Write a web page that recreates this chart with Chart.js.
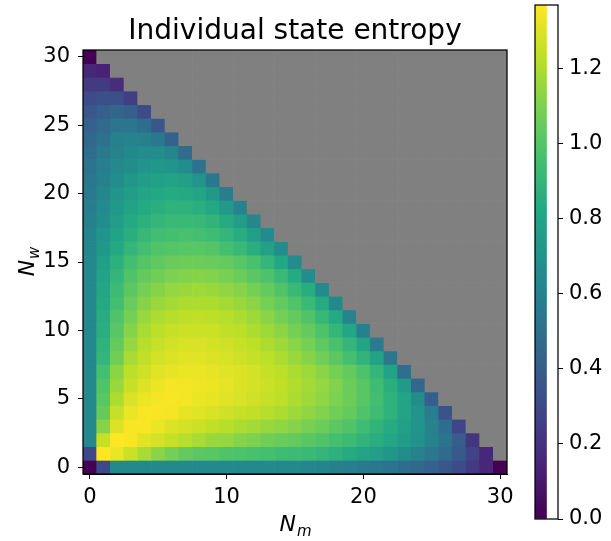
<!DOCTYPE html>
<html>
<head>
<meta charset="utf-8">
<title>Individual state entropy</title>
<script src="https://cdn.jsdelivr.net/npm/chart.js"></script>
<style>
  html, body { margin: 0; padding: 0; background: #fff; }
  #wrap { position: relative; width: 611px; height: 541px; }
  #heat { position: absolute; left: 0; top: 0; }
  #cbar { position: absolute; left: 520px; top: 0; }
</style>
</head>
<body>
<div id="wrap">
  <canvas id="heat" width="611" height="541"></canvas>
  <canvas id="cbar" width="91" height="541"></canvas>
</div>
<script>
// entropy per cell, one array per N_w row, index = N_m (cells with N_m + N_w > 30 are empty)
const nw0 = [0, 0.30, 0.64, 0.64, 0.64, 0.64, 0.64, 0.64, 0.64, 0.64, 0.64, 0.64, 0.64, 0.64, 0.64, 0.64, 0.63, 0.62, 0.60, 0.58, 0.56, 0.54, 0.52, 0.49, 0.46, 0.42, 0.37, 0.31, 0.23, 0.15, 0];
const nw1 = [0.30, 1.37, 1.33, 1.26, 1.19, 1.13, 1.08, 1.04, 1.02, 1.01, 0.99, 0.98, 0.97, 0.96, 0.94, 0.93, 0.92, 0.90, 0.87, 0.84, 0.80, 0.77, 0.72, 0.67, 0.61, 0.55, 0.47, 0.38, 0.27, 0.15];
const nw2 = [0.64, 1.25, 1.37, 1.36, 1.31, 1.28, 1.25, 1.22, 1.19, 1.16, 1.15, 1.12, 1.10, 1.07, 1.05, 1.04, 1.01, 0.99, 0.96, 0.93, 0.89, 0.85, 0.81, 0.75, 0.69, 0.61, 0.52, 0.40, 0.21];
const nw3 = [0.64, 1.12, 1.30, 1.36, 1.36, 1.33, 1.30, 1.28, 1.26, 1.24, 1.22, 1.20, 1.18, 1.16, 1.14, 1.12, 1.09, 1.06, 1.02, 0.99, 0.94, 0.89, 0.84, 0.78, 0.70, 0.61, 0.49, 0.28];
const nw4 = [0.64, 1.04, 1.25, 1.33, 1.36, 1.36, 1.35, 1.32, 1.31, 1.29, 1.27, 1.25, 1.24, 1.22, 1.20, 1.17, 1.14, 1.11, 1.07, 1.04, 0.99, 0.94, 0.88, 0.80, 0.71, 0.58, 0.35];
const nw5 = [0.64, 1.01, 1.20, 1.29, 1.33, 1.35, 1.36, 1.35, 1.33, 1.32, 1.31, 1.29, 1.27, 1.25, 1.23, 1.20, 1.17, 1.14, 1.10, 1.06, 1.01, 0.95, 0.88, 0.80, 0.67, 0.41];
const nw6 = [0.64, 0.99, 1.16, 1.25, 1.30, 1.33, 1.35, 1.35, 1.34, 1.33, 1.32, 1.30, 1.28, 1.26, 1.24, 1.21, 1.18, 1.15, 1.11, 1.06, 1.01, 0.94, 0.86, 0.74, 0.46];
const nw7 = [0.64, 0.96, 1.13, 1.23, 1.27, 1.31, 1.32, 1.33, 1.33, 1.32, 1.31, 1.30, 1.28, 1.25, 1.23, 1.20, 1.17, 1.13, 1.08, 1.04, 0.98, 0.90, 0.79, 0.50];
const nw8 = [0.64, 0.90, 1.07, 1.19, 1.24, 1.28, 1.30, 1.31, 1.31, 1.30, 1.29, 1.27, 1.25, 1.23, 1.20, 1.16, 1.12, 1.07, 1.02, 0.96, 0.89, 0.79, 0.54];
const nw9 = [0.64, 0.88, 1.04, 1.15, 1.22, 1.25, 1.28, 1.29, 1.29, 1.28, 1.27, 1.25, 1.23, 1.20, 1.17, 1.13, 1.08, 1.03, 0.97, 0.90, 0.80, 0.57];
const nw10 = [0.64, 0.86, 1.01, 1.12, 1.19, 1.23, 1.25, 1.26, 1.26, 1.26, 1.24, 1.23, 1.20, 1.17, 1.13, 1.08, 1.04, 0.98, 0.90, 0.81, 0.60];
const nw11 = [0.64, 0.85, 0.99, 1.08, 1.16, 1.20, 1.22, 1.23, 1.24, 1.23, 1.22, 1.20, 1.17, 1.13, 1.08, 1.04, 0.99, 0.91, 0.83, 0.62];
const nw12 = [0.64, 0.83, 0.95, 1.05, 1.12, 1.16, 1.18, 1.20, 1.20, 1.20, 1.18, 1.16, 1.13, 1.08, 1.04, 0.99, 0.92, 0.84, 0.64];
const nw13 = [0.64, 0.81, 0.93, 1.02, 1.08, 1.12, 1.15, 1.16, 1.17, 1.16, 1.14, 1.12, 1.08, 1.04, 0.99, 0.92, 0.85, 0.65];
const nw14 = [0.64, 0.79, 0.90, 0.99, 1.04, 1.07, 1.10, 1.11, 1.12, 1.11, 1.09, 1.06, 1.02, 0.98, 0.92, 0.84, 0.66];
const nw15 = [0.64, 0.77, 0.87, 0.95, 1.00, 1.03, 1.05, 1.06, 1.06, 1.05, 1.04, 1.01, 0.97, 0.90, 0.82, 0.66];
const nw16 = [0.63, 0.73, 0.83, 0.90, 0.95, 0.99, 1.00, 1.01, 1.01, 1.00, 0.96, 0.92, 0.86, 0.78, 0.66];
const nw17 = [0.62, 0.70, 0.79, 0.86, 0.91, 0.95, 0.96, 0.97, 0.96, 0.94, 0.90, 0.85, 0.77, 0.65];
const nw18 = [0.60, 0.67, 0.76, 0.83, 0.87, 0.90, 0.92, 0.92, 0.91, 0.89, 0.84, 0.76, 0.63];
const nw19 = [0.58, 0.65, 0.73, 0.79, 0.83, 0.86, 0.88, 0.88, 0.86, 0.82, 0.74, 0.61];
const nw20 = [0.56, 0.63, 0.70, 0.76, 0.80, 0.82, 0.84, 0.83, 0.80, 0.73, 0.58];
const nw21 = [0.54, 0.60, 0.66, 0.72, 0.76, 0.78, 0.79, 0.77, 0.71, 0.55];
const nw22 = [0.52, 0.58, 0.64, 0.67, 0.70, 0.72, 0.71, 0.66, 0.52];
const nw23 = [0.49, 0.56, 0.61, 0.64, 0.66, 0.66, 0.62, 0.48];
const nw24 = [0.46, 0.51, 0.59, 0.61, 0.60, 0.55, 0.43];
const nw25 = [0.42, 0.47, 0.53, 0.53, 0.48, 0.37];
const nw26 = [0.37, 0.41, 0.45, 0.41, 0.31];
const nw27 = [0.31, 0.33, 0.33, 0.25];
const nw28 = [0.23, 0.23, 0.18];
const nw29 = [0.15, 0.13];
const nw30 = [0];

const entropyRows = [nw0, nw1, nw2, nw3, nw4, nw5, nw6, nw7, nw8, nw9, nw10, nw11, nw12, nw13, nw14, nw15,
                     nw16, nw17, nw18, nw19, nw20, nw21, nw22, nw23, nw24, nw25, nw26, nw27, nw28, nw29, nw30];

const nTotal = 30;
const xTicks = [0, 10, 20, 30];
const yTicks = [0, 5, 10, 15, 20, 25, 30];
const cbarTicks = [0, 0.2, 0.4, 0.6, 0.8, 1.0, 1.2];
const titleText = 'Individual state entropy';

// viridis, 11 evenly spaced stops
const viridis = ['#440154', '#482475', '#414487', '#355f8d', '#2a788e', '#21918c',
                 '#22a884', '#44bf70', '#7ad151', '#bddf26', '#fde725'];
const badColor = '#808080';

const vmax = Math.max(...entropyRows.flat());

function hexRgb(h) {
  return [1, 3, 5].map(i => parseInt(h.slice(i, i + 2), 16));
}
const viridisRgb = viridis.map(hexRgb);

function colorFor(v) {
  if (v === null || v === undefined) return badColor;
  let t = Math.min(Math.max(v / vmax, 0), 1) * (viridisRgb.length - 1);
  const i = Math.min(Math.floor(t), viridisRgb.length - 2);
  const f = t - i;
  const a = viridisRgb[i], b = viridisRgb[i + 1];
  const c = a.map((ch, k) => Math.round(ch + (b[k] - ch) * f));
  return `rgb(${c[0]},${c[1]},${c[2]})`;
}

// one floating bar per cell, spanning its row
const cells = [];
for (let w = 0; w <= nTotal; w++) {
  for (let m = 0; m <= nTotal; m++) {
    const v = m < entropyRows[w].length ? entropyRows[w][m] : null;
    cells.push({ x: m, y: [w - 0.5, w + 0.5], v: v });
  }
}

Chart.defaults.font.family = '"DejaVu Sans", sans-serif';
Chart.defaults.font.size = 21;
Chart.defaults.color = '#000';

function drawSubLabel(ctx, main, sub, cx, baseY) {
  ctx.font = 'italic 22px "DejaVu Sans"';
  const wMain = ctx.measureText(main).width;
  ctx.font = 'italic 15px "DejaVu Sans"';
  const wSub = ctx.measureText(sub).width;
  const x0 = cx - (wMain + wSub) / 2;
  ctx.textAlign = 'left';
  ctx.font = 'italic 22px "DejaVu Sans"';
  ctx.fillText(main, x0, baseY);
  ctx.font = 'italic 15px "DejaVu Sans"';
  ctx.fillText(sub, x0 + wMain + 1, baseY + 5);
}

const heatLabels = {
  id: 'heatLabels',
  afterDraw(chart) {
    const { ctx, chartArea: a } = chart;
    ctx.save();
    ctx.strokeStyle = '#000';
    ctx.lineWidth = 1.25;
    ctx.strokeRect(a.left, a.top, a.right - a.left, a.bottom - a.top);
    ctx.fillStyle = '#000';
    ctx.textBaseline = 'alphabetic';
    ctx.textAlign = 'center';
    ctx.font = '28px "DejaVu Sans"';
    ctx.fillText(titleText, (a.left + a.right) / 2, 39);
    drawSubLabel(ctx, 'N', 'm', (a.left + a.right) / 2, 531);
    ctx.translate(34, (a.top + a.bottom) / 2);
    ctx.rotate(-Math.PI / 2);
    drawSubLabel(ctx, 'N', 'w', 0, 0);
    ctx.restore();
  }
};

const axisStyle = {
  grid: { display: true, drawOnChartArea: false, drawTicks: true, tickLength: 5, color: '#000', offset: false },
  border: { display: true, color: '#000', width: 1 }
};

new Chart(document.getElementById('heat'), {
  type: 'bar',
  data: {
    datasets: [{
      data: cells,
      backgroundColor: c => colorFor(c.raw ? c.raw.v : null),
      borderWidth: 0,
      barPercentage: 1,
      categoryPercentage: 1,
      grouped: false
    }]
  },
  options: {
    responsive: false,
    animation: false,
    layout: { padding: { left: 0, right: 104, top: 50, bottom: 0 } },
    plugins: { legend: { display: false }, tooltip: { enabled: false }, title: { display: false } },
    scales: {
      x: {
        type: 'linear', min: -0.5, max: 30.5, offset: false,
        ...axisStyle,
        ticks: { padding: 6, maxRotation: 0 },
        afterBuildTicks: s => { s.ticks = xTicks.map(v => ({ value: v })); },
        afterFit: s => { s.height = 67; }
      },
      y: {
        type: 'linear', min: -0.5, max: 30.5,
        ...axisStyle,
        ticks: { padding: 8 },
        afterBuildTicks: s => { s.ticks = yTicks.map(v => ({ value: v })); },
        afterFit: s => { s.width = 83; }
      }
    }
  },
  plugins: [heatLabels]
});

// colour bar
const cbarFrame = {
  id: 'cbarFrame',
  afterDraw(chart) {
    const { ctx, chartArea: a } = chart;
    ctx.save();
    ctx.strokeStyle = '#000';
    ctx.lineWidth = 1.25;
    ctx.strokeRect(a.left, a.top, a.right - a.left, a.bottom - a.top);
    ctx.restore();
  }
};

new Chart(document.getElementById('cbar'), {
  type: 'bar',
  data: {
    labels: [''],
    datasets: [{
      data: [[0, vmax]],
      backgroundColor: c => {
        const a = c.chart.chartArea;
        if (!a) return viridis[5];
        const g = c.chart.ctx.createLinearGradient(0, a.bottom, 0, a.top);
        viridis.forEach((col, i) => g.addColorStop(i / (viridis.length - 1), col));
        return g;
      },
      borderWidth: 0,
      barPercentage: 1,
      categoryPercentage: 1
    }]
  },
  options: {
    responsive: false,
    animation: false,
    layout: { padding: { left: 15, right: 0, top: 5, bottom: 22 } },
    plugins: { legend: { display: false }, tooltip: { enabled: false } },
    scales: {
      x: { display: false, offset: false },
      y: {
        position: 'right', min: 0, max: vmax,
        grid: { display: true, drawOnChartArea: false, drawTicks: true, tickLength: 5, color: '#000' },
        border: { display: false },
        ticks: { padding: 6, callback: v => v.toFixed(1) },
        afterBuildTicks: s => { s.ticks = cbarTicks.map(v => ({ value: v })); },
        afterFit: s => { s.width = 53; s.paddingTop = 0; s.paddingBottom = 0; }
      }
    }
  },
  plugins: [cbarFrame]
});
</script>
</body>
</html>
